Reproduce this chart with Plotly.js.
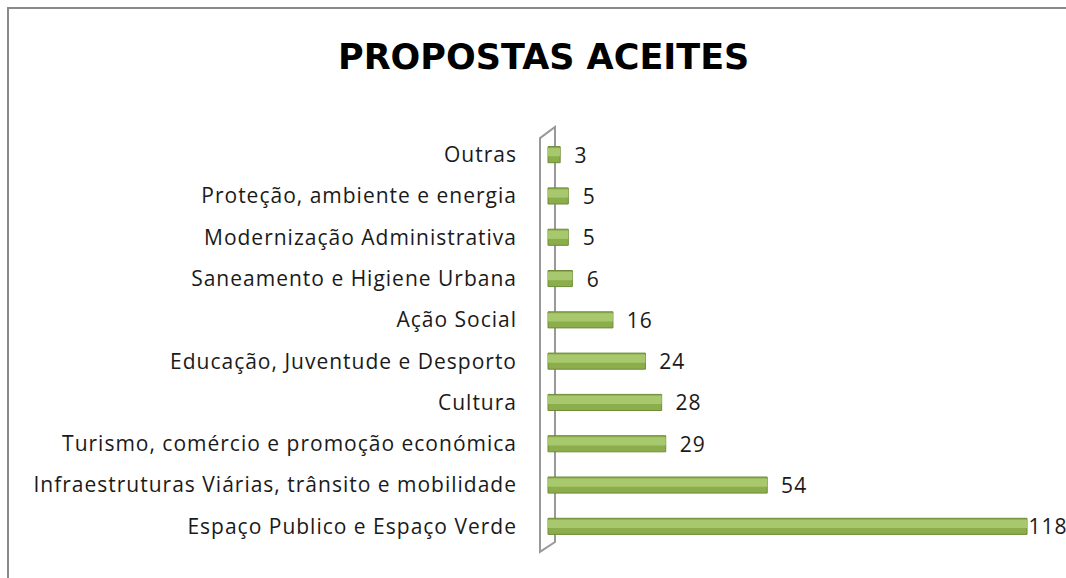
<!DOCTYPE html>
<html>
<head>
<meta charset="utf-8">
<script src="https://cdn.plot.ly/plotly-3.0.1.min.js"></script>
<style>
  html, body { margin: 0; padding: 0; background: #fff; }
  #wrap { position: relative; width: 1066px; height: 578px; overflow: hidden; }
  #chart { position: absolute; left: 0; top: 0; width: 1066px; height: 578px; }
  #frame { position: absolute; left: 7px; top: 7px; width: 1070px; height: 580px;
           border-left: 2px solid #8a8a8a; border-top: 2px solid #8a8a8a; pointer-events: none; }
  #chart .ytick text, #chart .bartext { letter-spacing: 1px; }
</style>
</head>
<body>
<div id="wrap">
  <div id="chart"></div>
  <div id="frame"></div>
</div>
<script>
const categories = [
  "Outras",
  "Proteção, ambiente e energia",
  "Modernização Administrativa",
  "Saneamento e Higiene Urbana",
  "Ação Social",
  "Educação, Juventude e Desporto",
  "Cultura",
  "Turismo, comércio e promoção económica",
  "Infraestruturas Viárias, trânsito e mobilidade",
  "Espaço Publico e Espaço Verde"
];
const values = [3, 5, 5, 6, 16, 24, 28, 29, 54, 118];
const chartTitle = "PROPOSTAS ACEITES";

const maxVal = Math.max(...values);
const labelText = values.map(v => (v === maxVal ? "" : "\u00a0\u00a0") + v);

const baseBar = {
  type: "bar",
  orientation: "h",
  x: values,
  y: categories,
  width: 0.39,
  offset: -0.195,
  marker: { color: "#8CAD4B", line: { color: "#6F8B3A", width: 1 } },
  text: labelText,
  textposition: "outside",
  constraintext: "none",
  cliponaxis: false,
  textfont: { family: "Open Sans", size: 21, color: "#1a1a1a" },
  hoverinfo: "skip"
};

const highlight = {
  type: "bar",
  orientation: "h",
  x: values,
  y: categories,
  width: 0.2,
  offset: -0.16,
  marker: { color: "#A8C86D", line: { width: 0 } },
  hoverinfo: "skip"
};

const layout = {
  width: 1066,
  height: 578,
  paper_bgcolor: "#fff",
  plot_bgcolor: "rgba(0,0,0,0)",
  margin: { l: 540, r: 0, t: 134, b: 31, pad: 0 },
  showlegend: false,
  barmode: "overlay",
  title: {
    text: "<b>" + chartTitle + "</b>",
    font: { family: "DejaVu Sans", size: 35, color: "#000" },
    x: 0.51, xanchor: "center",
    y: 0.902, yref: "container", yanchor: "middle"
  },
  xaxis: {
    range: [-1.97, 127.6],
    visible: false,
    showgrid: false,
    zeroline: false
  },
  yaxis: {
    type: "category",
    range: [9.5, -0.5],
    showgrid: false,
    zeroline: false,
    showline: false,
    ticks: "",
    ticklabelstandoff: 22,
    tickfont: { family: "Open Sans", size: 21, color: "#1a1a1a" }
  },
  shapes: [
    {
      type: "path",
      xref: "paper", yref: "paper",
      path: "M 0 0.990 L 0.0285 1.017 L 0.0285 0.012 L 0 -0.012 Z",
      line: { color: "#999", width: 2 },
      fillcolor: "#fff",
      layer: "below"
    }
  ]
};

Plotly.newPlot("chart", [baseBar, highlight], layout, { displayModeBar: false, staticPlot: true });
</script>
</body>
</html>
